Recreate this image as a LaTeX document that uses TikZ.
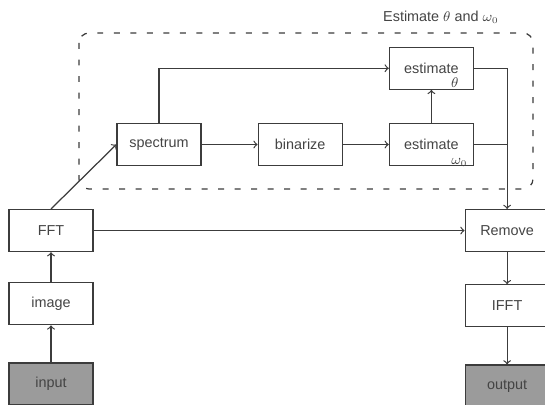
\documentclass[tikz,border=0pt]{standalone}
\usepackage{fontspec}
\setmainfont{Liberation Sans}
\usepackage{xcolor}
\definecolor{boxgray}{HTML}{9B9B9B}
\definecolor{linegray}{HTML}{3C3C3C}
\definecolor{textgray}{HTML}{444444}
\usetikzlibrary{positioning}

\begin{document}
\begin{tikzpicture}[->,>=to,x=0.02cm,y=-0.02cm,line width=0.7pt,font=\fontsize{8.2}{10}\selectfont]
            \tikzstyle{box}=[draw=linegray,text=textgray,minimum width=1.68cm,minimum height=0.84cm,inner sep=0pt]
            \tikzstyle{io}=[box,fill=boxgray]
            \tikzstyle{ln}=[color=linegray]
            \tikzstyle{dashbox}=[-,draw=linegray,dash pattern=on 3.4pt off 6pt,rounded corners=0.2cm]

            \useasboundingbox (0,0) rectangle (545,405);

            \node[io]  (input)    at (51,384)                {input};
            \node[box] (image)    [above=0.74cm of input]    {image};
            \node[box] (FFT)      [above=0.6cm of image]     {FFT};
            \node[box] (spectrum) at (159,144.5)             {spectrum};
            \node[box] (binarize) [right=1.12cm of spectrum] {binarize};
            \node[box] (estw)     [right=0.92cm of binarize] {estimate\smash{\llap{\raisebox{-8.5pt}{$\omega_{\scriptscriptstyle 0}$}\hspace{-5pt}}}};
            \node[box] (estt)     [above=0.66cm of estw]     {estimate\smash{\llap{\raisebox{-8pt}{$\theta$}}}};
            \node[box] (remove)   [right=7.42cm of FFT]      {Remove};
            \node[box] (IFFT)     [below=0.64cm of remove]   {IFFT};
            \node[io]  (output)   [below=0.74cm of IFFT]     {output};

            \node[text=textgray] (title) at (441,17) {Estimate $\theta$ and $\omega_{\scriptscriptstyle 0}$};

            % estimation block
            \draw[dashbox] (79,33) rectangle (533,189);

            \path[ln] (input)      edge (image)
                      (image)      edge (FFT)
                      (FFT.north)  edge (spectrum.west)
                      (FFT)        edge (remove)
                      (spectrum)   edge (binarize)
                      (binarize)   edge (estw)
                      (estw)       edge (estt)
                      (remove)     edge (IFFT)
                      (IFFT)       edge (output);
            \draw[ln] (spectrum.north) |- (estt.west);
            \draw[ln] (estt.east) -| (remove.north);
            \draw[ln,-] (estw.east) -- (estw.east -| remove.north);

        \end{tikzpicture}
\end{document}
